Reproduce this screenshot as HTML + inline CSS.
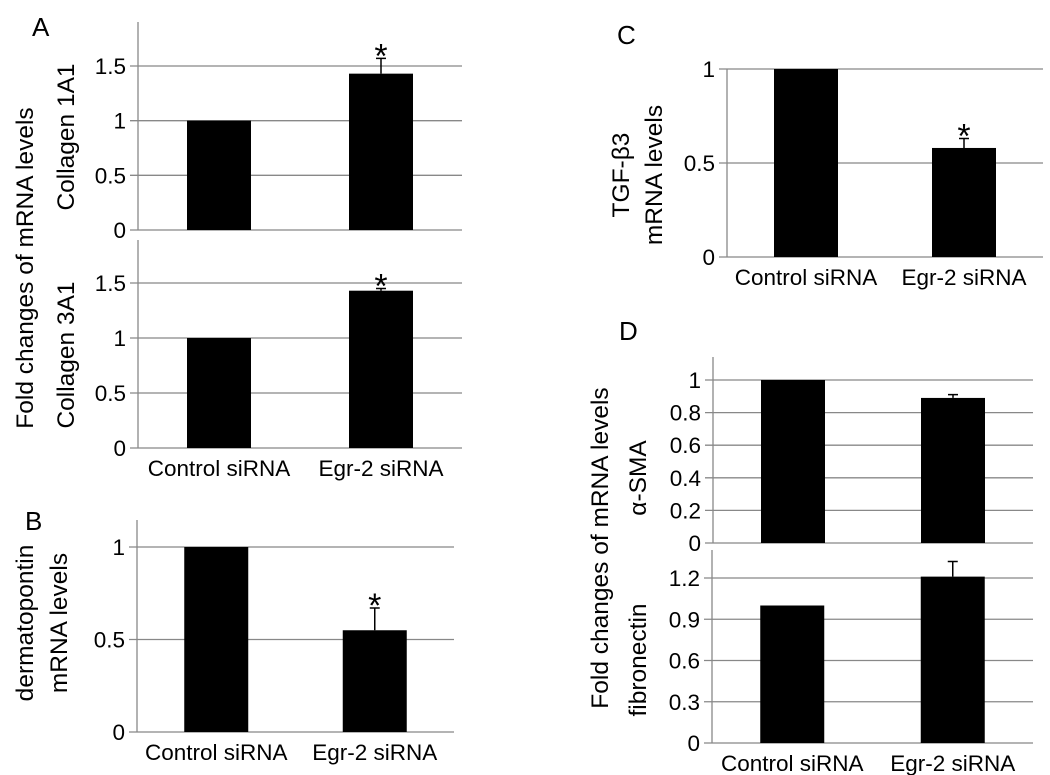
<!DOCTYPE html>
<html><head><meta charset="utf-8">
<style>
html,body{margin:0;padding:0;background:#fff;}
svg{display:block;font-family:"Liberation Sans",sans-serif;}
</style></head>
<body>
<svg id="fig" width="1050" height="775" viewBox="0 0 1050 775" xmlns="http://www.w3.org/2000/svg">
<text x="32" y="36" font-size="26">A</text>
<text x="25" y="530" font-size="26">B</text>
<text x="617" y="44" font-size="26">C</text>
<text x="619" y="340" font-size="26">D</text>
<text transform="translate(33,268) rotate(-90)" text-anchor="middle" font-size="24.5">Fold changes of mRNA levels</text>
<text transform="translate(74,137) rotate(-90)" text-anchor="middle" font-size="24.5">Collagen 1A1</text>
<text transform="translate(74,355) rotate(-90)" text-anchor="middle" font-size="24.5">Collagen 3A1</text>
<text transform="translate(33,623) rotate(-90)" text-anchor="middle" font-size="24.5">dermatopontin</text>
<text transform="translate(67,623) rotate(-90)" text-anchor="middle" font-size="24.5">mRNA levels</text>
<text transform="translate(629,175) rotate(-90)" text-anchor="middle" font-size="24.5">TGF-β3</text>
<text transform="translate(662,175) rotate(-90)" text-anchor="middle" font-size="24.5">mRNA levels</text>
<text transform="translate(608,548) rotate(-90)" text-anchor="middle" font-size="24.5">Fold changes of mRNA levels</text>
<text transform="translate(646,478) rotate(-90)" text-anchor="middle" font-size="24.5">α-SMA</text>
<text transform="translate(646,660) rotate(-90)" text-anchor="middle" font-size="24.5">fibronectin</text>
</svg>
<script>
const categories = ["Control siRNA", "Egr-2 siRNA"];
const col1Values = [1, 1.43];
const col1Err = [0, 0.14];
const col1Sig = [false, true];
const col1Ticks = ["0", "0.5", "1", "1.5"];
const col3Values = [1, 1.43];
const col3Err = [0, 0.02];
const col3Sig = [false, true];
const col3Ticks = ["0", "0.5", "1", "1.5"];
const dptValues = [1, 0.55];
const dptErr = [0, 0.12];
const dptSig = [false, true];
const dptTicks = ["0", "0.5", "1"];
const tgfValues = [1, 0.58];
const tgfErr = [0, 0.05];
const tgfSig = [false, true];
const tgfTicks = ["0", "0.5", "1"];
const smaValues = [1, 0.89];
const smaErr = [0, 0.02];
const smaSig = [false, false];
const smaTicks = ["0", "0.2", "0.4", "0.6", "0.8", "1"];
const fibValues = [1, 1.21];
const fibErr = [0, 0.11];
const fibSig = [false, false];
const fibTicks = ["0", "0.3", "0.6", "0.9", "1.2"];

const NS = "http://www.w3.org/2000/svg";
const svg = document.getElementById("fig");
function mk(tag, attrs, parent) {
  const e = document.createElementNS(NS, tag);
  for (const k in attrs) e.setAttribute(k, attrs[k]);
  (parent || svg).appendChild(e);
  return e;
}
function panel(name, g, vals, errs, sig, ticks, showX) {
  const grp = mk("g", {});
  
  
  const yMax = parseFloat(ticks[ticks.length - 1]);
  const y = v => g.y0 - (v / yMax) * (g.y0 - g.yTop);
  const xc = i => g.x0 + (g.x1 - g.x0) * (i + 0.5) / categories.length;
  ticks.forEach(t => {
    const v = parseFloat(t);
    const yy = y(v);
    const ln = mk("line", {x1: g.x0 - 8, x2: g.x1, y1: yy, y2: yy, stroke: "#888", "stroke-width": 1.3}, grp);
    
    
    const tx = mk("text", {x: g.x0 - 12, y: yy + 8, "text-anchor": "end", "font-size": 22.5}, grp);
    tx.textContent = t;
    
    
  });
  const ax = mk("line", {x1: g.x0, x2: g.x0, y1: g.axTop, y2: g.y0, stroke: "#888", "stroke-width": 1.3}, grp);
  
  
  const bw = 64;
  vals.forEach((v, i) => {
    const cx = xc(i);
    const r = mk("rect", {x: cx - bw / 2, y: y(v), width: bw, height: g.y0 - y(v), fill: "#000"}, grp);
    
    
    if (errs[i] > 0) {
      const ye = y(v + errs[i]);
      const e1 = mk("path", {d: `M${cx},${y(v)}V${ye}M${cx - 5},${ye}H${cx + 5}`, stroke: "#000", "stroke-width": 1.5, fill: "none"}, grp);
      
      
    }
    if (sig[i]) {
      const st = mk("text", {x: cx, y: y(v + errs[i]) + 9, "text-anchor": "middle", "font-size": 34}, grp);
      st.textContent = "*";
      
      
    }
    if (showX) {
      const lb = mk("text", {x: cx, y: g.y0 + 28, "text-anchor": "middle", "font-size": 22.5}, grp);
      lb.textContent = categories[i];
      
      
    }
  });
}
panel("collagen1a1", {x0: 138, x1: 462, y0: 230, yTop: 66, axTop: 22}, col1Values, col1Err, col1Sig, col1Ticks, false);
panel("collagen3a1", {x0: 138, x1: 462, y0: 448, yTop: 283, axTop: 240}, col3Values, col3Err, col3Sig, col3Ticks, true);
panel("dermatopontin", {x0: 137, x1: 454, y0: 732, yTop: 547, axTop: 520}, dptValues, dptErr, dptSig, dptTicks, true);
panel("tgfb3", {x0: 727, x1: 1043, y0: 257, yTop: 69, axTop: 69}, tgfValues, tgfErr, tgfSig, tgfTicks, true);
panel("asma", {x0: 713, x1: 1033, y0: 543, yTop: 380, axTop: 357}, smaValues, smaErr, smaSig, smaTicks, false);
panel("fibronectin", {x0: 712, x1: 1033, y0: 743, yTop: 578, axTop: 550}, fibValues, fibErr, fibSig, fibTicks, true);
</script>
</body></html>
